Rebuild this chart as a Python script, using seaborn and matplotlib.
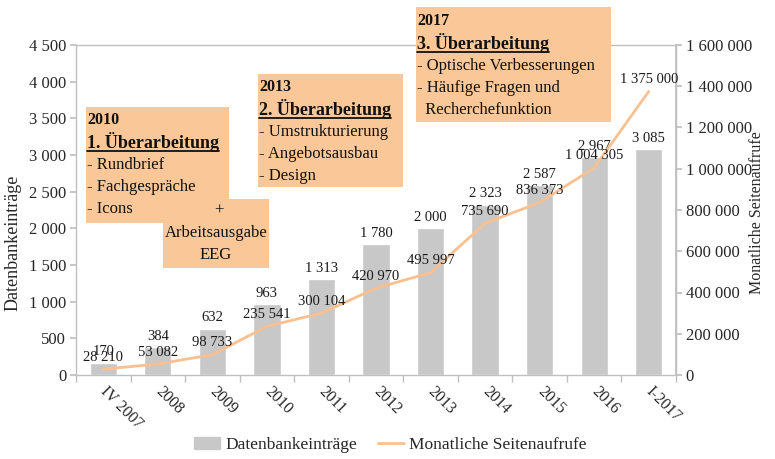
import numpy as np
import pandas as pd
import matplotlib
matplotlib.use("Agg")
import matplotlib.pyplot as plt
import seaborn as sns
from matplotlib.ticker import FixedLocator, FuncFormatter
from matplotlib.patches import Rectangle, Patch
from matplotlib.lines import Line2D

# data
categories = ["IV 2007", "2008", "2009", "2010", "2011", "2012",
              "2013", "2014", "2015", "2016", "I-2017"]
entries = [170, 384, 632, 963, 1313, 1780, 2000, 2323, 2587, 2967, 3085]
page_views = [28210, 53082, 98733, 235541, 300104, 420970, 495997,
              735690, 836373, 1004305, 1375000]
left_ticks = list(range(0, 4501, 500))
right_ticks = list(range(0, 1600001, 200000))

BAR = "#C8C8C8"
LINE = "#FAC08F"
BOX = "#FAC898"
SPINE = "#BFBFBF"
W, H = 775, 459


def fx(x):
    return x / W


def fy(y):
    return 1 - y / H


def fmt(v):
    return f"{int(v):,}".replace(",", " ")


sns.set_theme(style="white")
plt.rcParams["font.family"] = ["Liberation Serif", "DejaVu Serif"]

fig = plt.figure(figsize=(W / 100, H / 100), dpi=100)
ax = fig.add_axes([fx(76), fy(375), 600 / W, 330 / H])

df = pd.DataFrame({"Zeitraum": categories, "Datenbankeinträge": entries,
                   "Seitenaufrufe": page_views})

sns.barplot(data=df, x="Zeitraum", y="Datenbankeinträge", color=BAR,
            saturation=1, width=0.5, ax=ax)
ax.bar_label(ax.containers[0], labels=[fmt(v) for v in entries],
             padding=3, fontsize=10.5, color="#1a1a1a")

ax2 = ax.twinx()
sns.lineplot(x=np.arange(len(categories)), y=df["Seitenaufrufe"], ax=ax2,
             color=LINE, lw=2)
for i, v in enumerate(page_views):
    ax2.annotate(fmt(v), (i, v), xytext=(0, 8.6), textcoords="offset points",
                 ha="center", va="center", fontsize=10.5, color="#1a1a1a")

ax.set_xlim(-0.5, len(categories) - 0.5)
ax.set_ylim(0, 4500)
ax2.set_ylim(0, 1600000)
ax.set_xlabel("")
ax.set_ylabel("")
ax2.set_ylabel("")

# axes styling
for s in ax.spines.values():
    s.set_visible(True)
    s.set_color(SPINE)
    s.set_linewidth(1)
for name in ["left", "top", "bottom"]:
    ax2.spines[name].set_visible(False)
ax2.spines["right"].set_visible(True)
ax2.spines["right"].set_color(SPINE)

ax.yaxis.set_major_locator(FixedLocator(left_ticks))
ax.yaxis.set_major_formatter(FuncFormatter(lambda v, p: fmt(v)))
ax2.yaxis.set_major_locator(FixedLocator(right_ticks))
ax2.yaxis.set_major_formatter(FuncFormatter(lambda v, p: fmt(v)))
ax.tick_params(axis="y", left=True, length=4, color=SPINE, labelsize=12, pad=3)
ax2.tick_params(axis="y", right=True, length=4, color=SPINE, labelsize=12, pad=3)

ax.xaxis.set_minor_locator(FixedLocator(np.arange(-0.5, len(categories), 1)))
ax.tick_params(axis="x", which="major", length=0, pad=10, labelsize=11.5)
ax.tick_params(axis="x", which="minor", bottom=True, length=5, color=SPINE)
for lab in ax.get_xticklabels():
    lab.set_rotation(-45)
    lab.set_ha("left")
    lab.set_va("center")
    lab.set_rotation_mode("anchor")

# axis titles
fig.text(fx(13), fy(243), "Datenbankeinträge", rotation=90,
         ha="center", va="center", fontsize=13)
fig.text(fx(757), fy(213), "Monatliche Seitenaufrufe", rotation=90,
         ha="center", va="center", fontsize=11.5)

# legend
handles = [Patch(color=BAR), Line2D([], [], color=LINE, lw=2)]
fig.legend(handles, ["Datenbankeinträge", "Monatliche Seitenaufrufe"],
           loc="center", bbox_to_anchor=(fx(390), fy(445)), ncol=2,
           frameon=False, fontsize=12.5, handlelength=1.5,
           handletextpad=0.3, columnspacing=1.2)


# release note boxes
def box(x0, y0, x1, y1):
    fig.add_artist(Rectangle((fx(x0), fy(y1)), (x1 - x0) / W, (y1 - y0) / H,
                             transform=fig.transFigure, facecolor=BOX,
                             edgecolor="none", zorder=5))


def put(x, y, s, **kw):
    kw.setdefault("fontsize", 12)
    kw.setdefault("va", "center")
    return fig.text(fx(x), fy(y), s, zorder=6, color="#111111", **kw)


underline = []


def note(x, y, year, title, lines):
    put(x, y, year, fontsize=11.5, fontweight="bold")
    t = put(x, y + 22, title, fontsize=13, fontweight="bold")
    underline.append((t, y + 31))
    for k, s in enumerate(lines):
        put(x, y + 45 + 22 * k, s)


box(86, 107, 229, 223)
box(163, 199, 269, 268)
note(87, 120, "2010", "1. Überarbeitung",
     ["- Rundbrief", "- Fachgespräche", "- Icons"])
put(219, 211, "+", ha="center")
put(216, 233, "Arbeitsausgabe", ha="center")
put(216, 255, "EEG", ha="center")

box(258, 74, 403, 187)
note(259, 87, "2013", "2. Überarbeitung",
     ["- Umstrukturierung", "- Angebotsausbau", "- Design"])

box(416, 7, 611, 122)
note(417, 21, "2017", "3. Überarbeitung",
     ["- Optische Verbesserungen", "- Häufige Fragen und", "  Recherchefunktion"])

fig.canvas.draw()
r = fig.canvas.get_renderer()
for t, yy in underline:
    bb = t.get_window_extent(renderer=r)
    fig.add_artist(Line2D([bb.x0 / W, bb.x1 / W], [fy(yy), fy(yy)],
                          transform=fig.transFigure, color="#111111",
                          lw=1.3, zorder=7))

fig.savefig("out.png", dpi=100)
